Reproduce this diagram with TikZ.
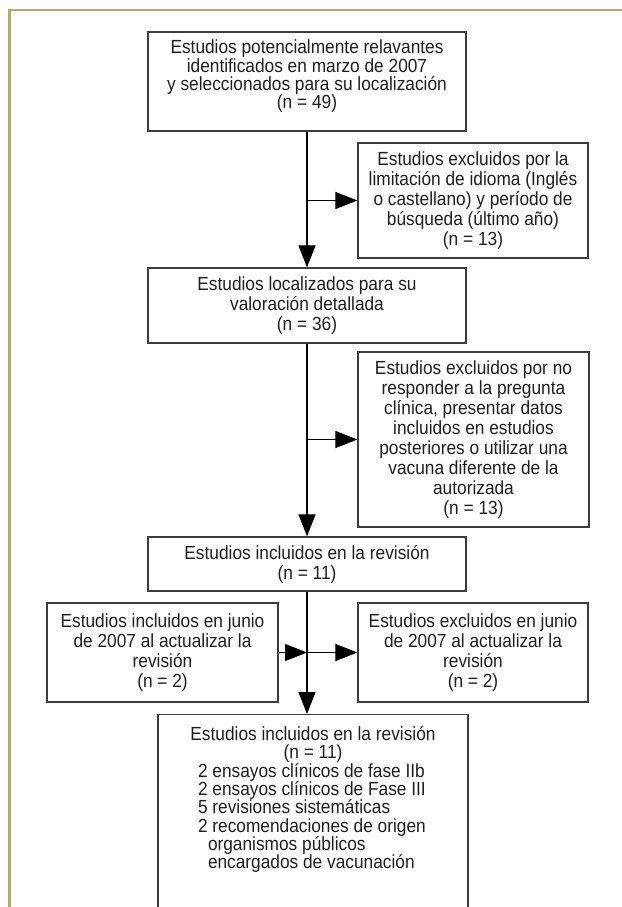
\documentclass[tikz,border=0pt]{standalone}
\usepackage{fontspec}
\setmainfont{Liberation Sans}[FakeStretch=0.91]
\usetikzlibrary{arrows.meta}
\definecolor{olive}{RGB}{182,171,104}
\definecolor{boxline}{RGB}{60,60,60}
\definecolor{txt}{RGB}{30,30,30}
\begin{document}
\begin{tikzpicture}[x=1pt,y=-1pt,
  box/.style={draw=boxline, line width=1.3pt, align=center, inner sep=0pt, text=txt,
    font=\fontsize{19pt}{20pt}\selectfont},
  arr/.style={draw=black, line width=1.2pt, -{Triangle[length=22pt,width=17pt]}},
  frame/.style={draw=olive, line width=2.2pt}]
\useasboundingbox (0,0) rectangle (621,907);
\draw[frame] (9.5,930) -- (9.5,10) -- (640,10);

\node[box, minimum width=318pt, minimum height=99pt, font=\fontsize{19pt}{18.3pt}\selectfont] (b1) at (307,81.5)
  {Estudios potencialmente relavantes\\identificados en marzo de 2007\\y seleccionados para su localización\\(n = 49)\rule[-14pt]{0pt}{14pt}};
\node[box, minimum width=230pt, minimum height=115pt] (b2) at (473,200.5)
  {Estudios excluidos por la\\limitación de idioma (Inglés\\o castellano) y período de\\búsqueda (último año)\\(n = 13)};
\node[box, minimum width=318pt, minimum height=75pt] (b3) at (307,305.5)
  {Estudios localizados para su\\valoración detallada\\(n = 36)};
\node[box, minimum width=231pt, minimum height=175pt] (b4) at (473.5,439.5)
  {Estudios excluidos por no\\responder a la pregunta\\clínica, presentar datos\\incluidos en estudios\\posteriores o utilizar una\\vacuna diferente de la\\autorizada\\(n = 13)};
\node[box, minimum width=318pt, minimum height=54pt] (b5) at (307,564)
  {Estudios incluidos en la revisión\\(n = 11)};
\node[box, minimum width=231pt, minimum height=99pt] (l) at (162.5,652.5)
  {Estudios incluidos en junio\\de 2007 al actualizar la\\revisión\\(n = 2)};
\node[box, minimum width=230pt, minimum height=99pt] (r) at (473,652.5)
  {Estudios excluidos en junio\\de 2007 al actualizar la\\revisión\\(n = 2)};
\node[box, anchor=north, align=left, font=\fontsize{19pt}{18.3pt}\selectfont] (bot) at (313,714)
  {\parbox[c][210pt][t]{310pt}{\centering\rule{0pt}{26pt}Estudios incluidos en la revisión\\(n = 11)\par
   \raggedright
   \hspace*{40pt}2 ensayos clínicos de fase IIb\\
   \hspace*{40pt}2 ensayos clínicos de Fase III\\
   \hspace*{40pt}5 revisiones sistemáticas\\
   \hspace*{40pt}2 recomendaciones de origen\\
   \hspace*{50pt}organismos públicos\\
   \hspace*{50pt}encargados de vacunación\par}};

\coordinate (j1) at (b1.south |- b2.west);
\coordinate (j2) at (b3.south |- b4.west);
\coordinate (j3) at (b5.south |- l.east);
\draw[arr] (b1.south) -- (b3.north);
\draw[arr] (j1) -- (b2.west);
\draw[arr] (b3.south) -- (b5.north);
\draw[arr] (j2) -- (b4.west);
\draw[arr] (b5.south) -- (b5.south |- bot.north);
\draw[arr] (l.east) -- (j3);
\draw[arr] (j3) -- (r.west);
\end{tikzpicture}
\end{document}
